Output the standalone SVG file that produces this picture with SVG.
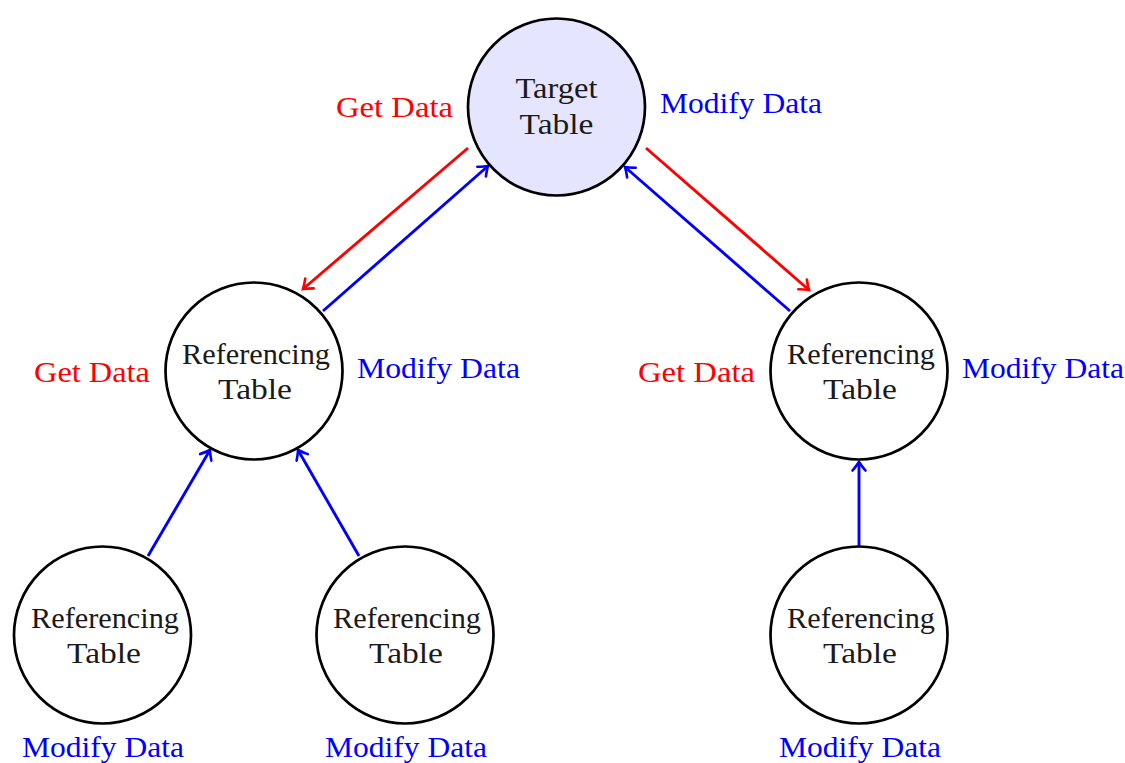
<svg xmlns="http://www.w3.org/2000/svg" width="1125" height="763" viewBox="0 0 1125 763">
<defs>
<marker id="arR" markerUnits="userSpaceOnUse" markerWidth="20" markerHeight="20" viewBox="-12 -10 14 20" refX="0" refY="0" orient="auto">
<path d="M -8.5,-6.5 Q -3,-1.8 0,0 Q -3,1.8 -8.5,6.5" fill="none" stroke="#FF0000" stroke-width="2.6" stroke-linecap="round"/>
</marker>
<marker id="arB" markerUnits="userSpaceOnUse" markerWidth="20" markerHeight="20" viewBox="-12 -10 14 20" refX="0" refY="0" orient="auto">
<path d="M -8.5,-6.5 Q -3,-1.8 0,0 Q -3,1.8 -8.5,6.5" fill="none" stroke="#0000FF" stroke-width="2.6" stroke-linecap="round"/>
</marker>
</defs>
<style>
.node{fill:#FFFFFF;stroke:#000000;stroke-width:2.7}
.target{fill:#E5E5FF}
.t{font-family:"Liberation Serif","DejaVu Serif",serif;font-size:29px;fill:#1a1a1a;text-anchor:middle}
.lbl{font-family:"Liberation Serif","DejaVu Serif",serif;font-size:29px}
.red{fill:#FF0000}
.blue{fill:#0000FF}
.er{stroke:#FF0000;stroke-width:2.9;fill:none;marker-end:url(#arR)}
.eb{stroke:#0000FF;stroke-width:2.9;fill:none;marker-end:url(#arB)}
</style>
<rect width="1125" height="763" fill="#FFFFFF"/>
<g id="connectors">
<line class="er" x1="468" y1="148" x2="303" y2="289"/>
<line class="eb" x1="323" y1="311" x2="488" y2="166"/>
<line class="er" x1="646" y1="148" x2="809" y2="290"/>
<line class="eb" x1="790" y1="311" x2="625" y2="167"/>
<line class="eb" x1="148" y1="556" x2="210" y2="450"/>
<line class="eb" x1="359" y1="556" x2="298" y2="450"/>
<line class="eb" x1="859" y1="546" x2="859" y2="462"/>
</g>
<g id="target">
<circle class="node target" cx="556.5" cy="107" r="88.5"/>
<text class="t" x="556.5" y="98" textLength="82" lengthAdjust="spacingAndGlyphs">Target</text>
<text class="t" x="556.5" y="134" textLength="74" lengthAdjust="spacingAndGlyphs">Table</text>
<text class="lbl red" x="453" y="117" text-anchor="end" textLength="117" lengthAdjust="spacingAndGlyphs">Get Data</text>
<text class="lbl blue" x="660" y="113" textLength="162" lengthAdjust="spacingAndGlyphs">Modify Data</text>
</g>
<g id="ref-left">
<circle class="node" cx="254" cy="371" r="88.5"/>
<text class="t" x="256" y="364" textLength="148" lengthAdjust="spacingAndGlyphs">Referencing</text>
<text class="t" x="255" y="399" textLength="74" lengthAdjust="spacingAndGlyphs">Table</text>
<text class="lbl red" x="150" y="382" text-anchor="end" textLength="116" lengthAdjust="spacingAndGlyphs">Get Data</text>
<text class="lbl blue" x="357" y="378" textLength="163" lengthAdjust="spacingAndGlyphs">Modify Data</text>
</g>
<g id="ref-right">
<circle class="node" cx="859" cy="371" r="88.5"/>
<text class="t" x="861" y="364" textLength="148" lengthAdjust="spacingAndGlyphs">Referencing</text>
<text class="t" x="860" y="399" textLength="74" lengthAdjust="spacingAndGlyphs">Table</text>
<text class="lbl red" x="755" y="382" text-anchor="end" textLength="117" lengthAdjust="spacingAndGlyphs">Get Data</text>
<text class="lbl blue" x="962" y="378" textLength="162" lengthAdjust="spacingAndGlyphs">Modify Data</text>
</g>
<g id="leaf-1">
<circle class="node" cx="102.5" cy="635" r="88.5"/>
<text class="t" x="105" y="628" textLength="148" lengthAdjust="spacingAndGlyphs">Referencing</text>
<text class="t" x="104" y="663" textLength="74" lengthAdjust="spacingAndGlyphs">Table</text>
<text class="lbl blue" x="103" y="757" text-anchor="middle" textLength="162" lengthAdjust="spacingAndGlyphs">Modify Data</text>
</g>
<g id="leaf-2">
<circle class="node" cx="405" cy="635" r="88.5"/>
<text class="t" x="407" y="628" textLength="148" lengthAdjust="spacingAndGlyphs">Referencing</text>
<text class="t" x="406" y="663" textLength="74" lengthAdjust="spacingAndGlyphs">Table</text>
<text class="lbl blue" x="406" y="757" text-anchor="middle" textLength="162" lengthAdjust="spacingAndGlyphs">Modify Data</text>
</g>
<g id="leaf-3">
<circle class="node" cx="859" cy="635" r="88.5"/>
<text class="t" x="861" y="628" textLength="148" lengthAdjust="spacingAndGlyphs">Referencing</text>
<text class="t" x="860" y="663" textLength="74" lengthAdjust="spacingAndGlyphs">Table</text>
<text class="lbl blue" x="860" y="757" text-anchor="middle" textLength="162" lengthAdjust="spacingAndGlyphs">Modify Data</text>
</g>
</svg>
